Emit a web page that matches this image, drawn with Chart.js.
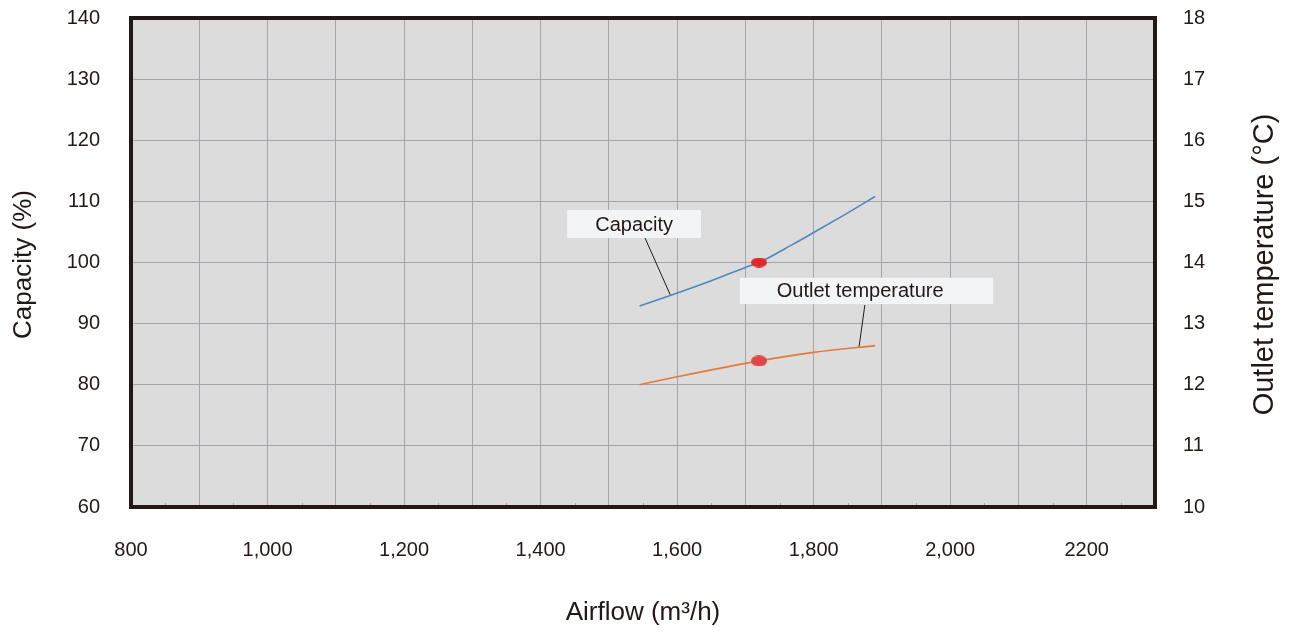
<!DOCTYPE html>
<html>
<head>
<meta charset="utf-8">
<script src="https://cdn.jsdelivr.net/npm/chart.js@4/dist/chart.umd.min.js"></script>
<style>
html,body{margin:0;padding:0;background:#fff;}
#wrap{width:1291px;height:635px;}
</style>
</head>
<body>
<div id="wrap"><canvas id="c" width="1291" height="635"></canvas></div>
<script>
// ---- data ----
const capacityAirflow = [1545, 1590, 1650, 1700, 1720, 1770, 1800, 1845, 1890];
const capacityValues  = [92.9, 94.6, 97.0, 99.2, 100.0, 103.0, 104.9, 107.8, 110.8];
const outletAirflow   = [1545, 1600, 1720, 1800, 1890];
const outletValues    = [12.0, 12.13, 12.39, 12.53, 12.64];
const designAirflow   = [1720];
const designCapacity  = [100];
const designOutlet    = [12.39];
const xTickValues = [800, 1000, 1200, 1400, 1600, 1800, 2000, 2200];
const xTickLabels = ['800', '1,000', '1,200', '1,400', '1,600', '1,800', '2,000', '2200'];
const xTitle = 'Airflow (m\u00B3/h)';
const yTitle = 'Capacity (%)';
const y1Title = 'Outlet temperature (\u00B0C)';
const capacityLabel = 'Capacity';
const outletLabel = 'Outlet temperature';

const INK = '#231815';
const FONT = '"Liberation Sans", Arial, Helvetica, sans-serif';

function ellipseMarker(w, h, color) {
  const cv = document.createElement('canvas');
  cv.width = w; cv.height = h;
  const g = cv.getContext('2d');
  g.fillStyle = color;
  g.beginPath();
  g.ellipse(w / 2, h / 2, w / 2, h / 2, 0, 0, Math.PI * 2);
  g.fill();
  return cv;
}

const pairs = (xs, ys) => xs.map((x, i) => ({x: x, y: ys[i]}));

// callout boxes (data coordinates on x / left y)
const callouts = [
  {text: capacityLabel, box: [1439, 108.6, 1635, 104.0], textX: null, lead: [1553, 104.0, 1590, 94.7]},
  {text: outletLabel, box: [1692, 97.5, 2063, 93.2], textX: 1746, lead: [1875, 93.05, 1866.5, 86.2]}
];

const decor = {
  id: 'decor',
  beforeDraw(chart) {
    const {ctx, chartArea: a} = chart;
    ctx.save();
    ctx.fillStyle = '#dcdcdc';
    ctx.fillRect(a.left, a.top, a.right - a.left, a.bottom - a.top);
    ctx.restore();
  },
  beforeDatasetsDraw(chart) {
    const {ctx, chartArea: a, scales} = chart;
    const x = scales.x, y = scales.y;
    ctx.save();
    // minor tick marks
    ctx.strokeStyle = '#a0a0a6';
    ctx.lineWidth = 1;
    for (let v = 850; v < 2300; v += 100) {
      const px = Math.round(x.getPixelForValue(v)) + 0.5;
      ctx.beginPath(); ctx.moveTo(px, a.bottom); ctx.lineTo(px, a.bottom - 4); ctx.stroke();
    }
    // frame
    ctx.strokeStyle = INK;
    ctx.lineWidth = 4;
    ctx.strokeRect(a.left, a.top, a.right - a.left, a.bottom - a.top);
    // callouts
    callouts.forEach(c => {
      const x0 = x.getPixelForValue(c.box[0]), y0 = y.getPixelForValue(c.box[1]);
      const x1 = x.getPixelForValue(c.box[2]), y1 = y.getPixelForValue(c.box[3]);
      ctx.fillStyle = '#f3f4f6';
      ctx.fillRect(x0, y0, x1 - x0, y1 - y0);
      ctx.strokeStyle = INK;
      ctx.lineWidth = 1;
      ctx.beginPath();
      ctx.moveTo(x.getPixelForValue(c.lead[0]), y.getPixelForValue(c.lead[1]));
      ctx.lineTo(x.getPixelForValue(c.lead[2]), y.getPixelForValue(c.lead[3]));
      ctx.stroke();
      ctx.fillStyle = INK;
      ctx.font = '20px ' + FONT;
      ctx.textBaseline = 'middle';
      if (c.textX === null) {
        ctx.textAlign = 'center';
        ctx.fillText(c.text, (x0 + x1) / 2, (y0 + y1) / 2 + 1);
      } else {
        ctx.textAlign = 'left';
        ctx.fillText(c.text, x.getPixelForValue(c.textX), (y0 + y1) / 2 + 1);
      }
    });
    ctx.restore();
  },
  afterDraw(chart) {
    const {ctx, chartArea: a} = chart;
    const cy = (a.top + a.bottom) / 2;
    ctx.save();
    ctx.fillStyle = INK;
    ctx.textAlign = 'center';
    ctx.textBaseline = 'middle';
    ctx.font = '26px ' + FONT;
    ctx.fillText(xTitle, (a.left + a.right) / 2, 613);
    ctx.save();
    ctx.translate(24, cy + 2);
    ctx.rotate(-Math.PI / 2);
    ctx.fillText(yTitle, 0, 0);
    ctx.restore();
    ctx.save();
    ctx.font = '29px ' + FONT;
    ctx.translate(1265, cy + 2);
    ctx.rotate(-Math.PI / 2);
    ctx.fillText(y1Title, 0, 0);
    ctx.restore();
    ctx.restore();
  }
};

const tickFont = {family: FONT, size: 20};
function noPad(s) { s.paddingTop = 0; s.paddingBottom = 0; s.paddingLeft = 0; s.paddingRight = 0; }

new Chart(document.getElementById('c'), {
  type: 'line',
  data: {
    datasets: [
      {label: capacityLabel, data: pairs(capacityAirflow, capacityValues), yAxisID: 'y',
       borderColor: '#4f88ba', borderWidth: 1.6, pointRadius: 0, cubicInterpolationMode: 'monotone', fill: false, order: 2},
      {label: outletLabel, data: pairs(outletAirflow, outletValues), yAxisID: 'y1',
       borderColor: '#e27a3a', borderWidth: 1.6, pointRadius: 0, cubicInterpolationMode: 'monotone', fill: false, order: 2},
      {label: 'design capacity', data: pairs(designAirflow, designCapacity), yAxisID: 'y', showLine: false,
       pointStyle: ellipseMarker(16, 10, '#e02a2a'), order: 1},
      {label: 'design outlet', data: pairs(designAirflow, designOutlet), yAxisID: 'y1', showLine: false,
       pointStyle: ellipseMarker(16, 11, '#e04848'), order: 1}
    ]
  },
  options: {
    responsive: false,
    animation: false,
    events: [],
    layout: {padding: {top: 18, left: 0, right: 0, bottom: 0}},
    plugins: {legend: {display: false}, tooltip: {enabled: false}, title: {display: false}},
    scales: {
      x: {
        type: 'linear', position: 'bottom', min: 800, max: 2300,
        afterFit(s) { s.height = 128; noPad(s); },
        afterBuildTicks(s) { const t = []; for (let v = 800; v <= 2300; v += 100) t.push({value: v}); s.ticks = t; },
        ticks: {
          autoSkip: false, maxRotation: 0, minRotation: 0, padding: 31, color: INK, font: tickFont,
          callback(v) { const i = xTickValues.indexOf(v); return i >= 0 ? xTickLabels[i] : ''; }
        },
        grid: {color: '#a4a4aa', lineWidth: 1, drawTicks: false},
        border: {display: false}
      },
      y: {
        type: 'linear', position: 'left', min: 60, max: 140,
        afterFit(s) { s.width = 131; noPad(s); },
        ticks: {stepSize: 10, padding: 31, color: INK, font: tickFont},
        grid: {color: '#a4a4aa', lineWidth: 1, drawTicks: false},
        border: {display: false}
      },
      y1: {
        type: 'linear', position: 'right', min: 10, max: 18,
        afterFit(s) { s.width = 136; noPad(s); },
        ticks: {stepSize: 1, padding: 28, color: INK, font: tickFont},
        grid: {display: false, drawTicks: false},
        border: {display: false}
      }
    }
  },
  plugins: [decor]
});
</script>
</body>
</html>
